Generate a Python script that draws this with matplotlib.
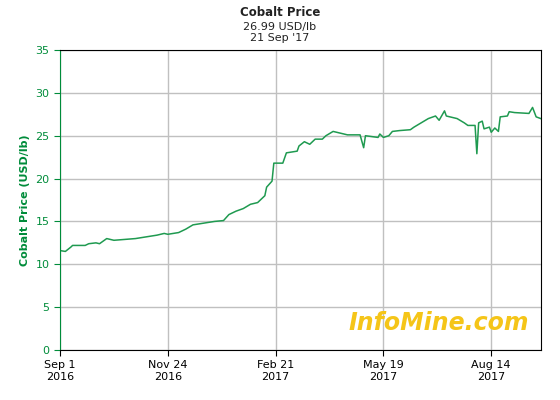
import matplotlib.pyplot as plt

# trading-day index and price (USD/lb)
days = [0, 3, 6, 7, 14, 16, 20, 22, 26, 30, 36, 42, 48, 54, 58, 60, 66, 70, 74, 80, 86, 91,
        94, 98, 102, 106, 110, 114, 115, 118, 119, 124, 126, 132, 133, 136, 139, 142, 146,
        148, 152, 156, 160, 167, 169, 170, 177, 178, 180, 183, 185, 189, 195, 197, 201, 205,
        209, 211, 214, 215, 221, 225, 227, 231, 232, 233, 235, 236, 239, 240, 242, 244, 245,
        249, 250, 253, 261, 263, 265, 267.7]
price = [11.6, 11.5, 12.0, 12.2, 12.2, 12.4, 12.5, 12.4, 13.0, 12.8, 12.9, 13.0, 13.2, 13.4,
         13.6, 13.5, 13.7, 14.1, 14.6, 14.8, 15.0, 15.1, 15.8, 16.2, 16.5, 17.0, 17.2, 18.0,
         19.0, 19.7, 21.8, 21.8, 23.0, 23.2, 23.8, 24.3, 24.0, 24.6, 24.6, 25.0, 25.5, 25.3,
         25.1, 25.1, 23.6, 25.0, 24.8, 25.2, 24.8, 25.0, 25.5, 25.6, 25.7, 26.0, 26.5, 27.0,
         27.3, 26.8, 27.9, 27.3, 27.0, 26.5, 26.2, 26.2, 22.9, 26.5, 26.7, 25.8, 26.0, 25.4,
         25.9, 25.5, 27.2, 27.3, 27.8, 27.7, 27.6, 28.3, 27.2, 26.99]
tick_pos = [0, 60, 120, 180, 240]
tick_labels = ['Sep 1\n2016', 'Nov 24\n2016', 'Feb 21\n2017', 'May 19\n2017', 'Aug 14\n2017']

green = '#008c3a'
fig = plt.figure(figsize=(5.6, 4), dpi=100)
ax = fig.add_axes([60 / 560, 50 / 400, 481 / 560, 300 / 400])
ax.plot(days, price, color='#1f9a50', lw=1.1)
ax.set_xlim(0, 267.7)
ax.set_ylim(0, 35)
ax.set_yticks(range(0, 36, 5))
ax.set_xticks(tick_pos, tick_labels)
ax.grid(color='#c0c0c0', lw=1)
ax.set_axisbelow(True)
ax.tick_params(labelsize=8, length=4)
ax.tick_params(axis='y', colors=green, labelcolor=green)
ax.spines['left'].set_color(green)
ax.set_ylabel('Cobalt Price (USD/lb)', color=green, fontsize=8, fontweight='bold')
fig.text(0.5, 0.985, 'Cobalt Price', ha='center', va='top', fontsize=8.5, fontweight='bold', color='#222222')
fig.text(0.5, 0.945, "26.99 USD/lb\n21 Sep '17", ha='center', va='top', fontsize=8, color='#222222', linespacing=1.1)
ax.text(0.975, 0.05, 'InfoMine.com', transform=ax.transAxes, ha='right', va='bottom',
        fontsize=17, fontweight='bold', style='italic', color='#f5c518')
fig.savefig('out.png')
